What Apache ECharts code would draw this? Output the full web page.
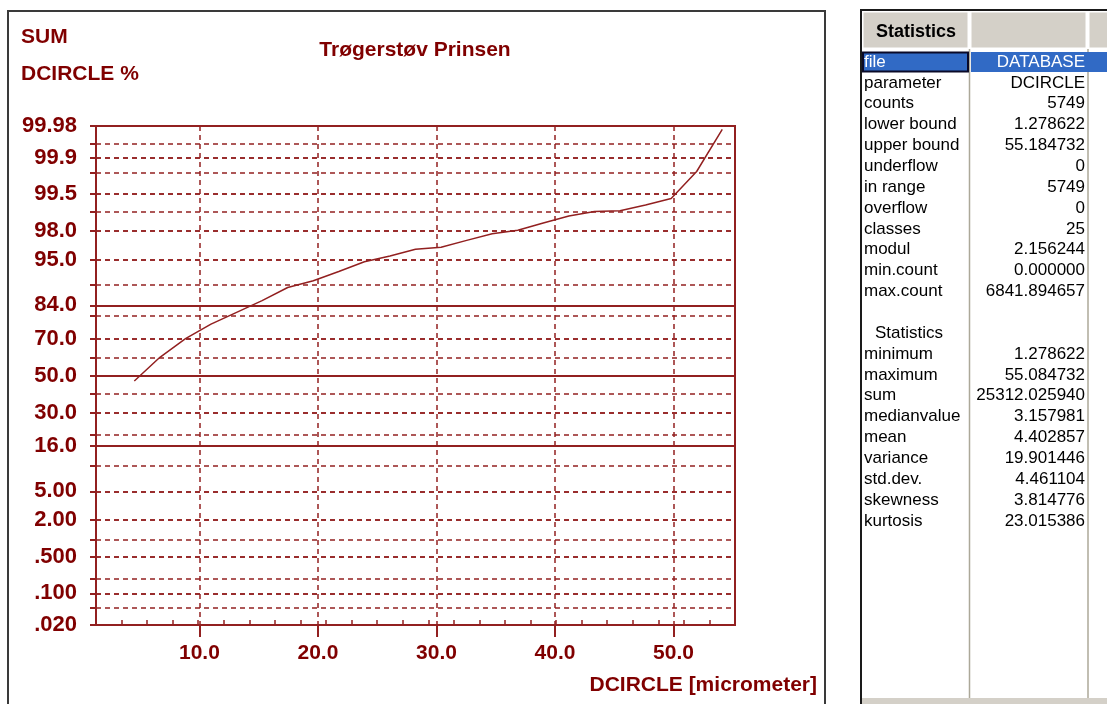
<!DOCTYPE html>
<html>
<head>
<meta charset="utf-8">
<script src="https://cdn.jsdelivr.net/npm/echarts@6/dist/echarts.min.js"></script>
<style>
  html, body { margin: 0; padding: 0; background: #ffffff; }
  #main { width: 1107px; height: 704px; }
</style>
</head>
<body>
<div id="main"></div>
<script>
// Class midpoints of DCIRCLE (micrometer) and cumulative sum percentage per class
const diameters = [4.51, 6.67, 8.83, 10.98, 13.14, 15.29, 17.45, 19.61, 21.76, 23.92, 26.08, 28.23,
                   30.39, 32.55, 34.70, 36.86, 39.01, 41.17, 43.33, 45.48, 47.64, 49.80, 51.95, 54.11];
const cumulativePct = [46.9, 60.2, 70.0, 76.7, 81.5, 85.6, 89.4, 91.05, 93.0, 94.67, 95.5, 96.33,
                       96.55, 97.24, 97.78, 98.03, 98.48, 98.82, 99.0, 99.03, 99.22, 99.40, 99.81, 99.976];

// Class boundaries (minor ticks on the diameter axis)
const classEdges = [3.43, 5.59, 7.75, 9.90, 12.06, 14.22, 16.37, 18.53, 20.68, 22.84, 25.00, 27.15,
                    29.31, 31.47, 33.62, 35.78, 37.93, 40.09, 42.25, 44.40, 46.56, 48.72, 50.87, 53.03];
const xTickValues = [10, 20, 30, 40, 50];

// Probability axis: labelled levels, dashed grid levels, solid grid levels (percent)
const probLabelValues = [99.98, 99.9, 99.5, 98, 95, 84, 70, 50, 30, 16, 5, 2, 0.5, 0.1, 0.02];
const probLabelText = ['99.98', '99.9', '99.5', '98.0', '95.0', '84.0', '70.0', '50.0', '30.0', '16.0',
                       '5.00', '2.00', '.500', '.100', '.020'];
const probGridDashed = [99.95, 99.9, 99.8, 99.5, 99, 98, 95, 90, 80, 70, 60, 40, 30, 20, 10, 5, 2, 1,
                        0.5, 0.2, 0.1, 0.05];
const probGridSolid = [84, 50, 16];
const probRange = [0.02, 99.98];

// Statistics panel
const statNames = ['file', 'parameter', 'counts', 'lower bound', 'upper bound', 'underflow', 'in range',
                   'overflow', 'classes', 'modul', 'min.count', 'max.count'];
const statValues = ['DATABASE', 'DCIRCLE', '5749', '1.278622', '55.184732', '0', '5749', '0', '25',
                    '2.156244', '0.000000', '6841.894657'];
const momentNames = ['minimum', 'maximum', 'sum', 'medianvalue', 'mean', 'variance', 'std.dev.',
                     'skewness', 'kurtosis'];
const momentValues = ['1.278622', '55.084732', '25312.025940', '3.157981', '4.402857', '19.901446',
                      '4.461104', '3.814776', '23.015386'];

const titleText = 'Trøgerstøv Prinsen';
const xAxisTitle = 'DCIRCLE [micrometer]';

// inverse of the standard normal CDF (Acklam), used for the probability scale
function probit(p) {
  const a = [-3.969683028665376e+01, 2.209460984245205e+02, -2.759285104469687e+02,
             1.383577518672690e+02, -3.066479806614716e+01, 2.506628277459239e+00];
  const b = [-5.447609879822406e+01, 1.615858368580409e+02, -1.556989798598866e+02,
             6.680131188771972e+01, -1.328068155288572e+01];
  const c = [-7.784894002430293e-03, -3.223964580411365e-01, -2.400758277161838e+00,
             -2.549732539343734e+00, 4.374664141464968e+00, 2.938163982698783e+00];
  const d = [7.784695709041462e-03, 3.224671290700398e-01, 2.445134137142996e+00,
             3.754408661907416e+00];
  const pl = 0.02425, ph = 1 - pl;
  let q, r;
  if (p < pl) {
    q = Math.sqrt(-2 * Math.log(p));
    return (((((c[0]*q + c[1])*q + c[2])*q + c[3])*q + c[4])*q + c[5]) /
           ((((d[0]*q + d[1])*q + d[2])*q + d[3])*q + 1);
  }
  if (p <= ph) {
    q = p - 0.5; r = q * q;
    return (((((a[0]*r + a[1])*r + a[2])*r + a[3])*r + a[4])*r + a[5]) * q /
           (((((b[0]*r + b[1])*r + b[2])*r + b[3])*r + b[4])*r + 1);
  }
  q = Math.sqrt(-2 * Math.log(1 - p));
  return -(((((c[0]*q + c[1])*q + c[2])*q + c[3])*q + c[4])*q + c[5]) /
          ((((d[0]*q + d[1])*q + d[2])*q + d[3])*q + 1);
}
const z = pct => probit(pct / 100);

const TEXT = '#800000';
const LINE = '#922020';
const FONT = 'Liberation Sans';

const zMin = z(probRange[0]);
const zMax = z(probRange[1]);
const labelZ = probLabelValues.map(z);
const tickZ = probLabelValues.concat(probGridDashed).map(z);
const solidZ = probGridSolid.map(z);

function probLabel(v) {
  let best = 0;
  for (let i = 1; i < labelZ.length; i++) {
    if (Math.abs(labelZ[i] - v) < Math.abs(labelZ[best] - v)) best = i;
  }
  return probLabelText[best];
}

const lowerBound = parseFloat(statValues[3]);
const upperBound = parseFloat(statValues[4]);

// ---- graphic: frames, headings and the statistics table ----
const graphics = [];
graphics.push({ type: 'rect', silent: true, z: -10,
  shape: { x: 8, y: 11, width: 817, height: 720 },
  style: { fill: 'none', stroke: '#3a3a3a', lineWidth: 2 } });
graphics.push({ type: 'text', silent: true,
  style: { text: 'SUM', x: 21, y: 37, verticalAlign: 'middle', fill: TEXT,
           font: 'bold 21px "Liberation Sans"' } });
graphics.push({ type: 'text', silent: true,
  style: { text: 'DCIRCLE %', x: 21, y: 74, verticalAlign: 'middle', fill: TEXT,
           font: 'bold 21px "Liberation Sans"' } });
graphics.push({ type: 'text', silent: true,
  style: { text: titleText, x: 415, y: 50, align: 'center', verticalAlign: 'middle', fill: TEXT,
           font: 'bold 21px "Liberation Sans"' } });
graphics.push({ type: 'text', silent: true,
  style: { text: xAxisTitle, x: 817, y: 685, align: 'right', verticalAlign: 'middle', fill: TEXT,
           font: 'bold 21px "Liberation Sans"' } });

// table frame
graphics.push({ type: 'rect', silent: true,
  shape: { x: 861, y: 10, width: 260, height: 720 },
  style: { fill: '#ffffff', stroke: '#1a1a1a', lineWidth: 2 } });
// header cells
[[863, 105], [971, 115], [1089, 30]].forEach(function (c) {
  graphics.push({ type: 'rect', silent: true,
    shape: { x: c[0], y: 12, width: c[1], height: 36 },
    style: { fill: '#d4d0c8', stroke: '#ffffff', lineWidth: 1 } });
});
graphics.push({ type: 'text', silent: true,
  style: { text: 'Statistics', x: 916, y: 32, align: 'center', verticalAlign: 'middle',
           fill: '#000000', font: 'bold 18px "Liberation Sans"' } });
// column separators
[969.5, 1088].forEach(function (x) {
  graphics.push({ type: 'line', silent: true,
    shape: { x1: x, y1: 49, x2: x, y2: 699 },
    style: { stroke: '#aca899', lineWidth: 1.5 } });
});
// selected first row
graphics.push({ type: 'rect', silent: true,
  shape: { x: 971, y: 52, width: 140, height: 20 }, style: { fill: '#316ac5' } });
graphics.push({ type: 'rect', silent: true,
  shape: { x: 863, y: 52.5, width: 105, height: 19 },
  style: { fill: '#316ac5', stroke: '#0a0a28', lineWidth: 2 } });
// bottom bar
graphics.push({ type: 'rect', silent: true,
  shape: { x: 862, y: 698, width: 250, height: 10 }, style: { fill: '#d4d0c8' } });

const ROW0 = 62, ROWH = 20.86;
function addRow(i, name, value, selected, nameX) {
  const y = ROW0 + ROWH * i;
  graphics.push({ type: 'text', silent: true,
    style: { text: name, x: nameX, y: y, verticalAlign: 'middle',
             fill: selected ? '#ffffff' : '#000000', font: '17px "Liberation Sans"' } });
  graphics.push({ type: 'text', silent: true,
    style: { text: value, x: 1085, y: y, align: 'right', verticalAlign: 'middle',
             fill: selected ? '#ffffff' : '#000000', font: '17px "Liberation Sans"' } });
}
statNames.forEach(function (n, i) { addRow(i, n, statValues[i], i === 0, 864); });
addRow(statNames.length + 1, 'Statistics', '', false, 875);
momentNames.forEach(function (n, i) { addRow(statNames.length + 2 + i, n, momentValues[i], false, 864); });

const option = {
  animation: false,
  backgroundColor: '#ffffff',
  grid: {
    left: 96, right: 372, top: 126, bottom: 79,
    show: true, borderColor: LINE, borderWidth: 2,
    outerBoundsMode: 'none'
  },
  xAxis: [{
    type: 'value', position: 'bottom',
    min: lowerBound, max: upperBound,
    axisLine: { show: true, onZero: false, lineStyle: { color: LINE, width: 2 } },
    axisTick: { show: true, length: 12, customValues: xTickValues, lineStyle: { color: LINE, width: 2 } },
    axisLabel: {
      customValues: xTickValues, margin: 18,
      formatter: v => v.toFixed(1),
      color: TEXT, fontSize: 21, fontWeight: 'bold', fontFamily: FONT
    },
    splitLine: { show: true, lineStyle: { color: LINE, width: 1.5, type: [5, 4] } }
  }, {
    type: 'value', position: 'bottom',
    min: lowerBound, max: upperBound,
    axisLine: { show: false, onZero: false },
    axisTick: { show: true, inside: true, length: 5, customValues: classEdges,
                lineStyle: { color: LINE, width: 1.5 } },
    axisLabel: { show: false },
    splitLine: { show: false }
  }],
  yAxis: [{
    type: 'value', position: 'left',
    min: zMin, max: zMax,
    axisLine: { show: true, onZero: false, lineStyle: { color: LINE, width: 2 } },
    axisTick: { show: true, length: 6, customValues: tickZ, lineStyle: { color: LINE, width: 2 } },
    axisLabel: {
      customValues: labelZ, margin: 19, formatter: probLabel,
      color: TEXT, fontSize: 22, fontWeight: 'bold', fontFamily: FONT
    },
    splitLine: { show: true, lineStyle: { color: LINE, width: 1.5, type: [5, 4] } }
  }, {
    type: 'value', position: 'left',
    min: zMin, max: zMax,
    axisLine: { show: false, onZero: false },
    axisTick: { show: false, customValues: solidZ },
    axisLabel: { show: false },
    splitLine: { show: true, lineStyle: { color: LINE, width: 2, type: 'solid' } }
  }],
  series: [{
    type: 'line',
    xAxisIndex: 0, yAxisIndex: 0,
    data: diameters.map((d, i) => [d, z(cumulativePct[i])]),
    showSymbol: false,
    lineStyle: { color: LINE, width: 1.5 },
    z: 5
  }],
  graphic: graphics
};

const chart = echarts.init(document.getElementById('main'), null, { renderer: 'canvas' });
chart.setOption(option);
</script>
</body>
</html>
